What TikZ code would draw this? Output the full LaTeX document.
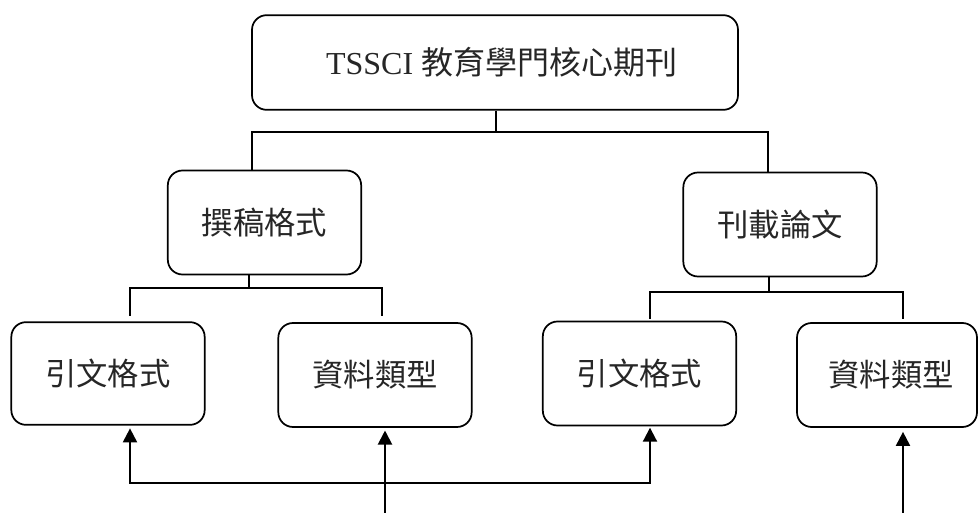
\documentclass[tikz,border=0pt]{standalone}
\usepackage{fontspec}
\setmainfont{Liberation Serif}
\newfontfamily\cjk{Noto Sans CJK TC}
\usetikzlibrary{arrows.meta}
\begin{document}
\begin{tikzpicture}[x=0.75pt,y=-0.75pt,
  box/.style={draw, line width=1.3pt, rounded corners=11pt, inner sep=0pt,
    minimum width=145pt, minimum height=78pt, text=black!85,
    font=\cjk\fontsize{23.5pt}{28pt}\selectfont},
  tree/.style={line width=2.1pt},
  arr/.style={line width=1.5pt, -{Triangle[length=10.5pt,width=10.5pt]}},
  arrboth/.style={line width=1.5pt, {Triangle[length=10.5pt,width=10.5pt]}-{Triangle[length=10.5pt,width=10.5pt]}}]
\useasboundingbox (0,0) rectangle (979,513);
% nodes
\node[box, minimum width=364.5pt, minimum height=71pt, font=\fontsize{24pt}{28pt}\selectfont] (top) at (495,62.5) {\hspace{10pt}TSSCI {\cjk 教育學門核心期刊}};
\node[box] (zg) at (264.5,222.5) {撰稿格式};
\node[box] (kz) at (780,224.5) {刊載論文};
\node[box, minimum height=77pt] (yL) at (108,373.5) {引文格式};
\node[box] (dL) at (375,375) {資料類型};
\node[box] (yR) at (639.5,373.5) {引文格式};
\node[box, minimum width=135pt] (dR) at (887,375) {\hspace{6pt}資料類型};
% tree connectors
\coordinate (j0) at (496,132);
\coordinate (jl) at (252,132);
\coordinate (jr) at (768,132);
\draw[tree] (top.south -| j0) -- (j0);
\draw[tree, line cap=rect] (jl |- zg.north) -- (jl) -- (jr) -- (jr |- kz.north);
\coordinate (a0) at (249,288);
\coordinate (al) at (130,288);
\coordinate (ar) at (382,288);
\draw[tree] (zg.south -| a0) -- (a0);
\draw[tree, line cap=rect] (130,315) -- (al) -- (ar) -- (382,315);
\coordinate (b0) at (769,292);
\coordinate (bl) at (650,292);
\coordinate (br) at (903,292);
\draw[tree] (kz.south -| b0) -- (b0);
\draw[tree, line cap=rect] (650,318) -- (bl) -- (br) -- (903,318);
% arrows
\coordinate (c1) at (130,483);
\coordinate (c2) at (650,483);
\draw[arrboth] ([yshift=-2pt]yL.south -| c1) -- (c1) -- (c2) -- ([yshift=-1pt]yR.south -| c2);
\coordinate (e1) at (385,513);
\draw[arr] (e1) -- ([yshift=-2pt]dL.south -| e1);
\coordinate (e2) at (903,513);
\draw[arr] (e2) -- ([yshift=-3pt]dR.south -| e2);
\end{tikzpicture}
\end{document}
